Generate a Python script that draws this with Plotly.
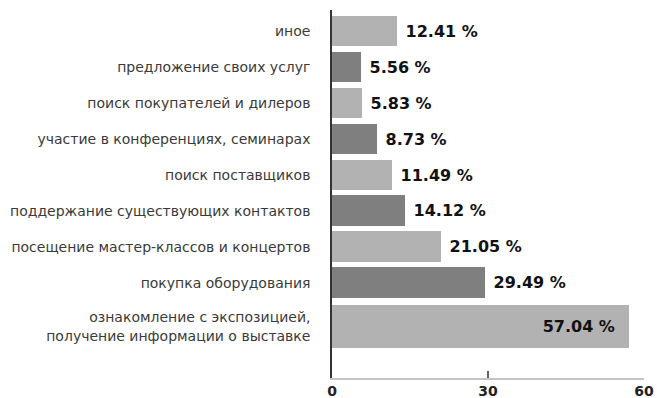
import plotly.graph_objects as go

categories = [
    "иное",
    "предложение своих услуг",
    "поиск покупателей и дилеров",
    "участие в конференциях, семинарах",
    "поиск поставщиков",
    "поддержание существующих контактов",
    "посещение мастер-классов и концертов",
    "покупка оборудования",
    "ознакомление с экспозицией,<br>получение информации о выставке",
]
values = [12.41, 5.56, 5.83, 8.73, 11.49, 14.12, 21.05, 29.49, 57.04]
x_ticks = [0, 30, 60]

LIGHT = "#b2b2b2"
DARK = "#7f7f7f"

n = len(values)
# positions in bar-pitch units; the two-line last category gets a taller bar
pos = [float(i) for i in range(n)]
widths = [0.86] * n
pos[-1] = n - 1 + 0.21
widths[-1] = 1.19
colors = [LIGHT if i % 2 == 0 else DARK for i in range(n)]
textpos = ["outside"] * (n - 1) + ["inside"]
NB = "\u00a0"
templates = [NB + "%{x:.2f} %"] * (n - 1) + ["%{x:.2f} %" + NB + NB]

fig = go.Figure(
    go.Bar(
        x=values,
        y=pos,
        width=widths,
        orientation="h",
        marker=dict(color=colors, line=dict(width=0)),
        texttemplate=templates,
        textposition=textpos,
        insidetextanchor="end",
        textfont=dict(family="DejaVu Sans", size=16, color="#111111", weight="bold"),
        cliponaxis=False,
        hoverinfo="skip",
    )
)

fig.update_layout(
    width=657,
    height=398,
    margin=dict(l=332, r=13, t=10, b=20, autoexpand=False),
    paper_bgcolor="white",
    plot_bgcolor="white",
    showlegend=False,
    bargap=0,
    xaxis=dict(
        range=[0, 60],
        automargin=False,
        tickvals=x_ticks,
        ticktext=[str(v) for v in x_ticks],
        ticks="",
        showgrid=False,
        zeroline=False,
        showline=True,
        linecolor="#c4c4c4",
        linewidth=2,
        tickfont=dict(family="DejaVu Sans", size=14, color="#222222", weight="bold"),
        ticklabelstandoff=-1,
        minor=dict(tickvals=[30], ticks="inside", ticklen=7, tickwidth=2, tickcolor="#666666"),
        fixedrange=True,
    ),
    yaxis=dict(
        range=[9.64, -0.583],
        automargin=False,
        tickvals=pos,
        ticktext=categories,
        ticks="",
        showgrid=False,
        zeroline=False,
        showline=True,
        linecolor="#333333",
        linewidth=1.5,
        tickfont=dict(family="DejaVu Sans", size=14, color="#3a3a3a"),
        ticklabelstandoff=17,
        fixedrange=True,
    ),
)

fig.write_html("out.html")
